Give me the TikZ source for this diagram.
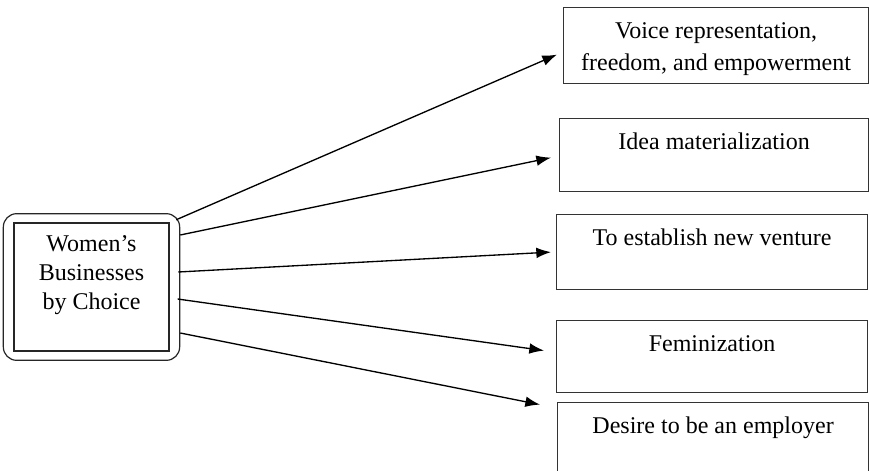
\documentclass[tikz,border=0pt]{standalone}
\usepackage{fontspec}
\setmainfont{Liberation Serif}
\usepackage{tikz}
\usetikzlibrary{arrows.meta,positioning,fit}
\tikzset{choice node/.style={rectangle, draw=black!80, line width=0.9pt,
    anchor=north west, inner xsep=0pt, inner ysep=2pt, align=center,
    font=\fontsize{18}{24}\selectfont, text height=21.25pt}}
\tikzset{source node/.style={rectangle, draw=black!85, line width=1pt,
    minimum width=116.25pt, inner xsep=0pt, inner ysep=2pt, align=center,
    font=\fontsize{18}{21.4}\selectfont, text height=62.5pt, text depth=29.5pt}}
\tikzset{source frame/.style={rectangle, draw=black!85, line width=0.9pt,
    rounded corners=10pt, inner xsep=7.5pt, inner ysep=6.5pt}}
\tikzset{reason edge/.style={draw=black, line width=1pt, -{Latex[length=11pt,width=8pt]}}}

\begin{document}
\begin{tikzpicture}
      [x=0.75pt, y=-0.75pt]
      \useasboundingbox (0,0) rectangle (869,471);
      \clip (0,0) rectangle (869,471);

      \node [source node]                                      (src)      at ( 91.5, 287) {Women's\\Businesses\\by Choice};
      \node [source frame, fit=(src)]                          (frame)    {};

      \node [choice node, minimum width=228.75pt, text height=45.25pt,
             text depth=7.75pt]                                (voice)    at (563,   7) {Voice representation,\\freedom, and empowerment};
      \node [choice node, minimum width=231.75pt, text depth=29.5pt]  (idea)     at (559, 118) {Idea materialization};
      \node [choice node, minimum width=233.25pt, text depth=31pt]    (venture)  at (556, 214) {To establish new venture};
      \node [choice node, minimum width=233.25pt, text depth=28.75pt] (feminize) at (556, 320) {Feminization};
      \node [choice node, minimum width=233.25pt, text depth=31pt]    (employer) at (557, 402) {Desire to be an employer};

      \draw [reason edge] ([xshift=-3pt, yshift=-5pt]frame.north east) -- ([xshift=-4.5pt, yshift=-6.75pt]voice.west);
      \draw [reason edge] ([yshift=39pt]frame.east)                    -- ([xshift=-6pt, yshift=-1.9pt]idea.west);
      \draw [reason edge] ([xshift=-1.5pt, yshift=11.25pt]frame.east)  -- ([xshift=-3.75pt]venture.west);
      \draw [reason edge] ([xshift=-2pt, yshift=-9pt]frame.east)       -- ([xshift=-9pt, yshift=4.5pt]feminize.west);
      \draw [reason edge] ([yshift=-34.5pt]frame.east)                 -- ([xshift=-12.75pt, yshift=26.6pt]employer.west);
    \end{tikzpicture}
\end{document}
